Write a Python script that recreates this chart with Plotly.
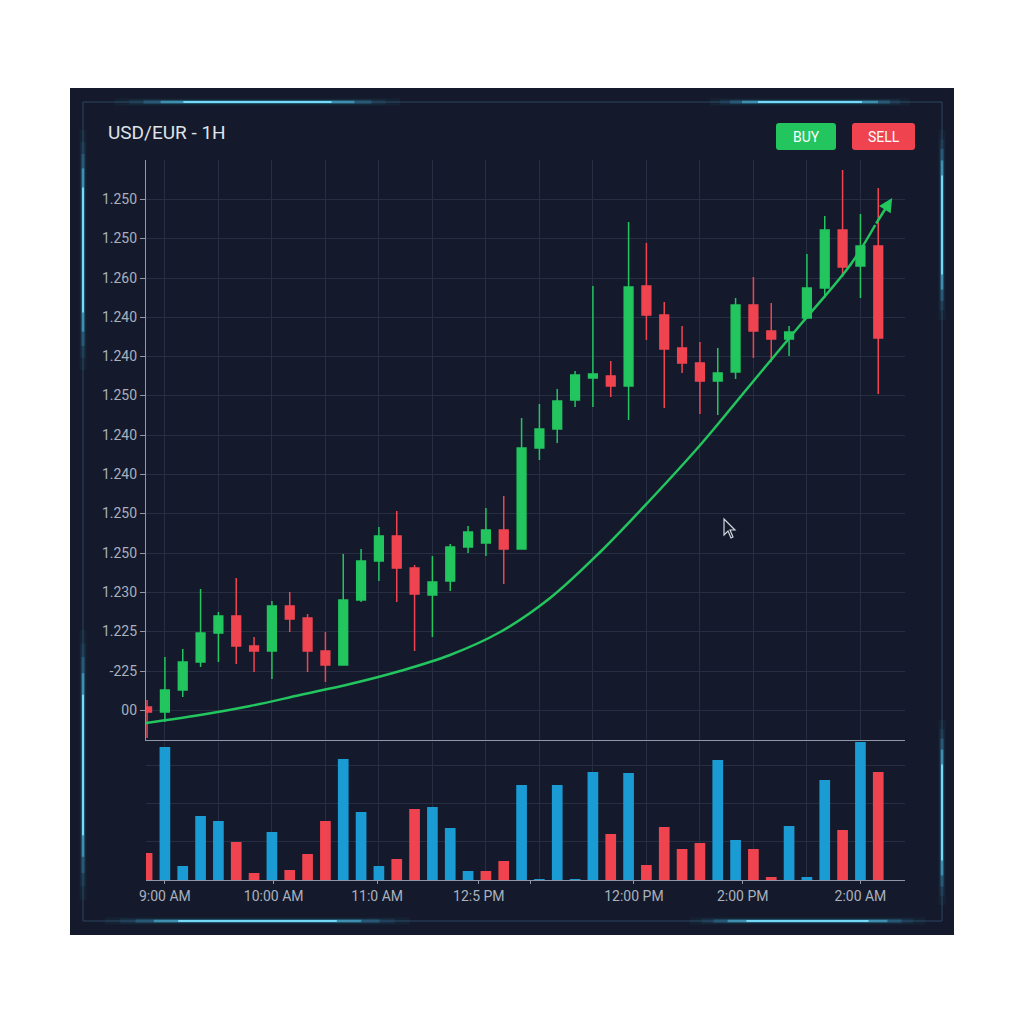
import plotly.graph_objects as go

# ---------------- data ----------------
candle_idx = list(range(42))
opens = [1.2003, 1.1998, 1.2020, 1.2048, 1.2077, 1.2094, 1.2064, 1.2059, 1.2104, 1.2092,
         1.2059, 1.2045, 1.2110, 1.2149, 1.2174, 1.2142, 1.2115, 1.2129, 1.2163, 1.2167,
         1.2180, 1.2161, 1.2262, 1.2281, 1.2310, 1.2332, 1.2334, 1.2324, 1.2424, 1.2395,
         1.2362, 1.2347, 1.2329, 1.2338, 1.2405, 1.2379, 1.2371, 1.2392, 1.2422, 1.2480,
         1.2444, 1.2464]
highs = [1.2010, 1.2053, 1.2061, 1.2121, 1.2098, 1.2132, 1.2073, 1.2109, 1.2118, 1.2096,
         1.2078, 1.2156, 1.2161, 1.2183, 1.2199, 1.2145, 1.2154, 1.2166, 1.2184, 1.2202,
         1.2214, 1.2292, 1.2306, 1.2321, 1.2339, 1.2424, 1.2349, 1.2488, 1.2467, 1.2408,
         1.2384, 1.2368, 1.2362, 1.2412, 1.2433, 1.2407, 1.2384, 1.2456, 1.2494, 1.2540,
         1.2496, 1.2522]
lows = [1.1972, 1.1988, 1.2013, 1.2043, 1.2048, 1.2046, 1.2038, 1.2031, 1.2078, 1.2038,
        1.2028, 1.2045, 1.2108, 1.2129, 1.2108, 1.2059, 1.2073, 1.2119, 1.2157, 1.2154,
        1.2126, 1.2161, 1.2250, 1.2267, 1.2303, 1.2303, 1.2313, 1.2290, 1.2370, 1.2302,
        1.2337, 1.2296, 1.2295, 1.2331, 1.2352, 1.2348, 1.2354, 1.2392, 1.2412, 1.2433,
        1.2412, 1.2316]
closes = [1.1998, 1.2020, 1.2048, 1.2077, 1.2094, 1.2064, 1.2059, 1.2104, 1.2091, 1.2059,
          1.2045, 1.2110, 1.2149, 1.2174, 1.2142, 1.2116, 1.2128, 1.2163, 1.2178, 1.2180,
          1.2161, 1.2262, 1.2281, 1.2309, 1.2335, 1.2336, 1.2324, 1.2423, 1.2395, 1.2361,
          1.2347, 1.2329, 1.2337, 1.2405, 1.2379, 1.2371, 1.2378, 1.2422, 1.2480, 1.2443,
          1.2464, 1.2372]

volumes = [27, 133, 14, 64, 59, 38, 7, 48, 10, 26, 59, 121, 68, 14, 21, 71, 73, 52, 9, 9,
           19, 95, 1, 95, 1, 108, 46, 107, 15, 53, 31, 37, 120, 40, 31, 3, 54, 3, 100, 50,
           138, 108]
volume_side = ["s", "b", "b", "b", "b", "s", "s", "b", "s", "s", "s", "b", "b", "b", "s", "s",
               "b", "b", "b", "s", "s", "b", "b", "b", "b", "b", "s", "b", "s", "s", "s", "s",
               "b", "b", "s", "s", "b", "b", "b", "s", "b", "s"]

trend_x = [-0.06, 2.97, 5.78, 8.58, 11.39, 14.19, 16.99, 19.80, 22.60, 25.41, 28.21,
           31.02, 33.82, 36.62, 39.43, 40.83]
trend_y = [1.1987, 1.1995, 1.2004, 1.2015, 1.2026, 1.2039, 1.2055, 1.2078, 1.2112, 1.2158,
           1.2210, 1.2265, 1.2325, 1.2385, 1.2445, 1.2485]
arrow_tip = (41.78, 1.2512)

y_tickvals = [1.2000, 1.2039, 1.2079, 1.2118, 1.2157, 1.2197, 1.2236, 1.2275, 1.2315,
              1.2354, 1.2393, 1.2432, 1.2472, 1.2511]
y_ticktext = ["00", "-225", "1.225", "1.230", "1.250", "1.250", "1.240", "1.240", "1.250",
              "1.240", "1.240", "1.260", "1.250", "1.250"]

x_tickvals = [1.0, 7.1, 12.9, 18.6, 21.5, 27.3, 33.4, 40.0]
x_ticktext = ["9:00 AM", "10:00 AM", "11:0 AM", "12:5 PM", "", "12:00 PM", "2:00 PM", "2:00 AM"]

title_text = "USD/EUR - 1H"

# ---------------- styles ----------------
GREEN = "#22c55e"
RED = "#ef4450"
BLUE = "#1a9bd3"
PANEL = "#141a2b"
GRID = "#252e42"
AXIS = "#8f97a8"
TXT = "#a9b1bf"
FONT = "Roboto"

W, H = 1024, 1024


def px(x):
    return x / W


def py(y):
    return 1 - y / H


fig = go.Figure()

fig.add_trace(go.Candlestick(
    x=candle_idx, open=opens, high=highs, low=lows, close=closes,
    increasing=dict(line=dict(color=GREEN, width=1.5), fillcolor=GREEN),
    decreasing=dict(line=dict(color=RED, width=1.5), fillcolor=RED),
    whiskerwidth=0, xaxis="x", yaxis="y", showlegend=False, hoverinfo="skip",
))

fig.add_trace(go.Scatter(
    x=trend_x, y=trend_y, mode="lines", line=dict(color=GREEN, width=2.5, shape="spline", smoothing=1.0),
    xaxis="x", yaxis="y", showlegend=False, hoverinfo="skip",
))

fig.add_trace(go.Bar(
    x=candle_idx, y=volumes,
    marker=dict(color=[BLUE if s == "b" else RED for s in volume_side], line=dict(width=0)),
    width=0.6, xaxis="x2", yaxis="y2", showlegend=False, hoverinfo="skip",
))

shapes = []
# outer panel
shapes.append(dict(type="rect", xref="paper", yref="paper", x0=px(70), x1=px(954), y0=py(935), y1=py(88),
                   fillcolor=PANEL, line=dict(width=0), layer="below"))
# inner frame
shapes.append(dict(type="rect", xref="paper", yref="paper", x0=px(83), x1=px(942), y0=py(921), y1=py(102),
                   fillcolor="rgba(0,0,0,0)", line=dict(color="#2a4560", width=1), layer="below"))

GLOW_LAYERS = [(0.00, 7, "rgba(60,190,240,0.05)"), (0.05, 5, "rgba(60,190,240,0.08)"),
               (0.10, 3.5, "rgba(70,200,245,0.18)"), (0.16, 2.5, "rgba(90,210,248,0.45)"),
               (0.24, 2, "rgba(120,222,252,0.95)")]


def glow_h(x0, x1, y):
    L = x1 - x0
    for frac, w, col in GLOW_LAYERS:
        shapes.append(dict(type="line", xref="paper", yref="paper", x0=px(x0 + L * frac), x1=px(x1 - L * frac),
                           y0=py(y), y1=py(y), line=dict(color=col, width=w), layer="below"))


def glow_v(x, y0, y1):
    L = y1 - y0
    for frac, w, col in GLOW_LAYERS:
        shapes.append(dict(type="line", xref="paper", yref="paper", x0=px(x), x1=px(x),
                           y0=py(y0 + L * frac), y1=py(y1 - L * frac), line=dict(color=col, width=w), layer="below"))


glow_h(115, 400, 102)
glow_h(710, 910, 102)
glow_h(105, 410, 921)
glow_h(690, 925, 921)
glow_v(83, 130, 370)
glow_v(83, 630, 900)
glow_v(942, 130, 320)
glow_v(942, 720, 905)


def rounded_rect(x0, y0, x1, y1, r):
    pts = (f"M {px(x0 + r)},{py(y0)} L {px(x1 - r)},{py(y0)} Q {px(x1)},{py(y0)} {px(x1)},{py(y0 + r)} "
           f"L {px(x1)},{py(y1 - r)} Q {px(x1)},{py(y1)} {px(x1 - r)},{py(y1)} "
           f"L {px(x0 + r)},{py(y1)} Q {px(x0)},{py(y1)} {px(x0)},{py(y1 - r)} "
           f"L {px(x0)},{py(y0 + r)} Q {px(x0)},{py(y0)} {px(x0 + r)},{py(y0)} Z")
    return pts


# buttons
shapes.append(dict(type="path", xref="paper", yref="paper", path=rounded_rect(776, 123, 836, 150, 3),
                   fillcolor=GREEN, line=dict(width=0)))
shapes.append(dict(type="path", xref="paper", yref="paper", path=rounded_rect(852, 123, 915, 150, 3),
                   fillcolor=RED, line=dict(width=0)))

# mouse cursor
cur = [(724, 519), (724, 535), (728, 531), (731, 538), (733, 537), (730, 530), (735, 530)]
path = "M " + " L ".join(f"{px(a):.5f},{py(b):.5f}" for a, b in cur) + " Z"
shapes.append(dict(type="path", xref="paper", yref="paper", path=path,
                   fillcolor="#141a2b", line=dict(color="#d0d5de", width=1.2)))

annotations = [
    dict(text=title_text, xref="paper", yref="paper", x=px(106), y=py(132), xanchor="left", yanchor="middle",
         showarrow=False, font=dict(family=FONT, size=19, color="#dfe3ea")),
    dict(text="BUY", xref="paper", yref="paper", x=px(806), y=py(137), xanchor="center", yanchor="middle",
         showarrow=False, font=dict(family=FONT, size=14, color="#ffffff")),
    dict(text="SELL", xref="paper", yref="paper", x=px(883.5), y=py(137), xanchor="center", yanchor="middle",
         showarrow=False, font=dict(family=FONT, size=14, color="#ffffff")),
    dict(text="", x=arrow_tip[0], y=arrow_tip[1], ax=trend_x[-1], ay=trend_y[-1], xref="x", yref="y",
         axref="x", ayref="y", showarrow=True, arrowhead=2, arrowsize=1.1, arrowwidth=2.5, arrowcolor=GREEN),
]

x_range = [-0.06, 42.5]
x_dom = [px(146), px(905)]

fig.update_layout(
    width=W, height=H, margin=dict(l=0, r=0, t=0, b=0, pad=0, autoexpand=False),
    paper_bgcolor="#ffffff", plot_bgcolor="rgba(0,0,0,0)",
    font=dict(family=FONT, color=TXT, size=14),
    shapes=shapes, annotations=annotations, bargap=0.4,
    xaxis=dict(domain=x_dom, range=x_range, anchor="y", rangeslider=dict(visible=False), automargin=False,
               tick0=1, dtick=3, showgrid=True, gridcolor=GRID, gridwidth=1, showticklabels=False,
               ticks="", showline=True, linecolor=AXIS, linewidth=1.2, zeroline=False, mirror=False),
    yaxis=dict(domain=[py(740), py(160)], range=[1.1970, 1.2550], anchor="x", automargin=False,
               tickmode="array", tickvals=y_tickvals, ticktext=y_ticktext,
               ticks="outside", ticklen=5, tickcolor=AXIS, showline=True, linecolor=AXIS, linewidth=1.2,
               showgrid=True, gridcolor=GRID, zeroline=False, tickfont=dict(size=14, color=TXT)),
    xaxis2=dict(domain=x_dom, range=x_range, anchor="y2", matches="x", automargin=False,
                tickmode="array", tickvals=x_tickvals, ticktext=x_ticktext, showgrid=False,
                minor=dict(tick0=1, dtick=3, showgrid=True, gridcolor=GRID, ticks=""),
                ticks="outside", ticklen=3, tickcolor=AXIS, showline=True, linecolor=AXIS, linewidth=1.2,
                zeroline=False, tickfont=dict(size=14, color=TXT)),
    yaxis2=dict(domain=[py(880), py(742)], range=[0, 138], anchor="x2", tickmode="array", automargin=False,
                tickvals=[38.5, 77, 115], showticklabels=False, showgrid=True, gridcolor=GRID,
                zeroline=False, showline=False, ticks=""),
)

fig.write_html("out.html", config={"displayModeBar": False},
               post_script="document.body.style.margin='0px';")
